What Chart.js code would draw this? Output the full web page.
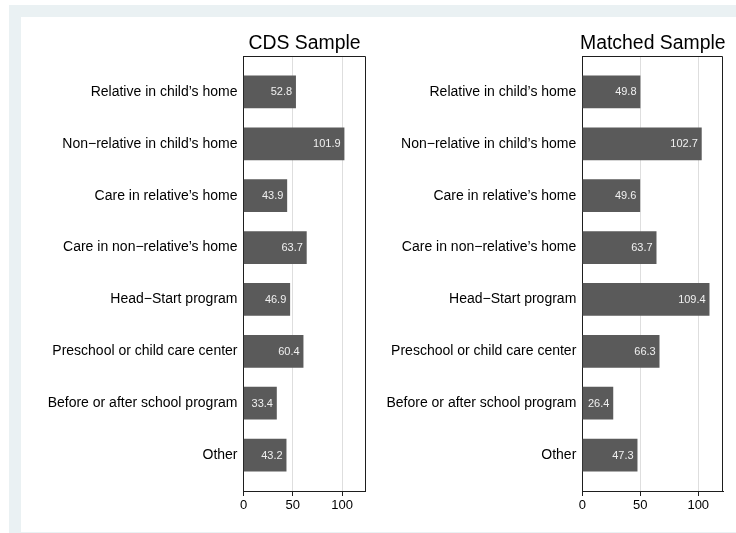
<!DOCTYPE html>
<html>
<head>
<meta charset="utf-8">
<script src="https://cdn.jsdelivr.net/npm/chart.js@4/dist/chart.umd.min.js"></script>
<style>
  html, body { margin: 0; padding: 0; background: #ffffff; }
  body { width: 736px; height: 533px; position: relative; overflow: hidden; }
  #frame { position: absolute; left: 9px; top: 5px; width: 727px; height: 528px; background: #eaf1f3; }
  #panel { position: absolute; left: 21px; top: 17px; width: 715px; height: 515px; background: #ffffff; }
  #cds { position: absolute; left: 0; top: 0; }
  #matched { position: absolute; left: 372px; top: 0; }
</style>
</head>
<body>
<div id="frame"></div>
<div id="panel"></div>
<canvas id="cds" width="372" height="533"></canvas>
<canvas id="matched" width="364" height="533"></canvas>
<script>
// Average weekly hours by type of care arrangement
const categories = [
  "Relative in child\u2019s home",
  "Non\u2212relative in child\u2019s home",
  "Care in relative\u2019s home",
  "Care in non\u2212relative\u2019s home",
  "Head\u2212Start program",
  "Preschool or child care center",
  "Before or after school program",
  "Other"
];
const cdsHours = [52.8, 101.9, 43.9, 63.7, 46.9, 60.4, 33.4, 43.2];
const matchedHours = [49.8, 102.7, 49.6, 63.7, 109.4, 66.3, 26.4, 47.3];
const hourTicks = [0, 50, 100];
const panelTitles = ["CDS Sample", "Matched Sample"];

const FONT = '"Liberation Sans", Arial, Helvetica, sans-serif';
const INK = '#1e1e1e';
const BAR = '#5a5a5a';
const GRID = '#dedede';
const CAT_PAD = 0.193; // blank space above the first and below the last category, in category units

// Draws the panel heading, the closing top/right edges of the plot box,
// and the value printed inside the end of each bar.
const panelDecor = {
  id: 'panelDecor',
  afterDatasetsDraw(chart, args, opts) {
    const ctx = chart.ctx;
    const meta = chart.getDatasetMeta(0);
    const data = chart.data.datasets[0].data;
    ctx.save();
    ctx.font = '11px ' + FONT;
    ctx.fillStyle = '#f0f0f0';
    ctx.textAlign = 'right';
    ctx.textBaseline = 'middle';
    meta.data.forEach((bar, i) => {
      ctx.fillText(data[i].x.toFixed(1), bar.x - 3.5, bar.y + 0.5);
    });
    ctx.restore();
  },
  afterDraw(chart, args, opts) {
    const ctx = chart.ctx;
    const a = chart.chartArea;
    ctx.save();
    ctx.strokeStyle = INK;
    ctx.lineWidth = 1;
    ctx.beginPath();
    const top = Math.round(a.top) + 0.5;
    const right = Math.round(a.right) - 0.5;
    ctx.moveTo(Math.round(a.left), top);
    ctx.lineTo(right, top);
    ctx.lineTo(right, Math.round(a.bottom));
    ctx.stroke();
    ctx.font = '19.4px ' + FONT;
    ctx.fillStyle = '#000000';
    ctx.textAlign = 'center';
    ctx.textBaseline = 'alphabetic';
    ctx.fillText(opts.title, (a.left + a.right) / 2, 48.5);
    ctx.restore();
  }
};

function drawPanel(canvasId, title, hours, axisWidth, padRight, xMax) {
  const points = hours.map((v, i) => ({ x: v, y: i }));
  const yMin = -0.5 - CAT_PAD;
  const yMax = categories.length - 0.5 + CAT_PAD;
  return new Chart(document.getElementById(canvasId), {
    type: 'bar',
    data: {
      datasets: [{
        data: points,
        backgroundColor: BAR,
        borderWidth: 0,
        barThickness: 32
      }]
    },
    options: {
      indexAxis: 'y',
      responsive: false,
      animation: false,
      events: [],
      layout: { padding: { left: 0, top: 56, right: padRight, bottom: 0 } },
      plugins: {
        legend: { display: false },
        tooltip: { enabled: false },
        title: { display: false },
        panelDecor: { title: title }
      },
      scales: {
        y: {
          type: 'linear',
          reverse: true,
          offset: false,
          min: yMin,
          max: yMax,
          afterBuildTicks(scale) {
            scale.ticks = categories.map((c, i) => ({ value: i }));
            scale.min = yMin;
            scale.max = yMax;
          },
          afterFit(scale) { scale.width = axisWidth; },
          grid: { display: false, drawTicks: false, tickLength: 0 },
          border: { display: true, color: INK, width: 1 },
          ticks: {
            padding: 6,
            color: '#000000',
            font: { family: FONT, size: 14 },
            callback: (v) => categories[v]
          }
        },
        x: {
          type: 'linear',
          position: 'bottom',
          offset: false,
          min: 0,
          max: xMax,
          afterBuildTicks(scale) {
            scale.ticks = hourTicks.map(v => ({ value: v }));
            scale.min = 0;
            scale.max = xMax;
          },
          afterFit(scale) { scale.height = 533 - 491; },
          grid: {
            display: true,
            drawTicks: true,
            tickLength: 5,
            tickColor: INK,
            lineWidth: 1,
            color: (c) => (c.tick && c.tick.value === 0) ? 'rgba(0,0,0,0)' : GRID
          },
          border: { display: true, color: INK, width: 1 },
          ticks: {
            padding: 2,
            color: '#000000',
            maxRotation: 0,
            font: { family: FONT, size: 13 }
          }
        }
      }
    },
    plugins: [panelDecor]
  });
}

drawPanel('cds', panelTitles[0], cdsHours, 243.5, 6.5, 123.6);
drawPanel('matched', panelTitles[1], matchedHours, 210.3, 12.7, 121.6);
</script>
</body>
</html>
